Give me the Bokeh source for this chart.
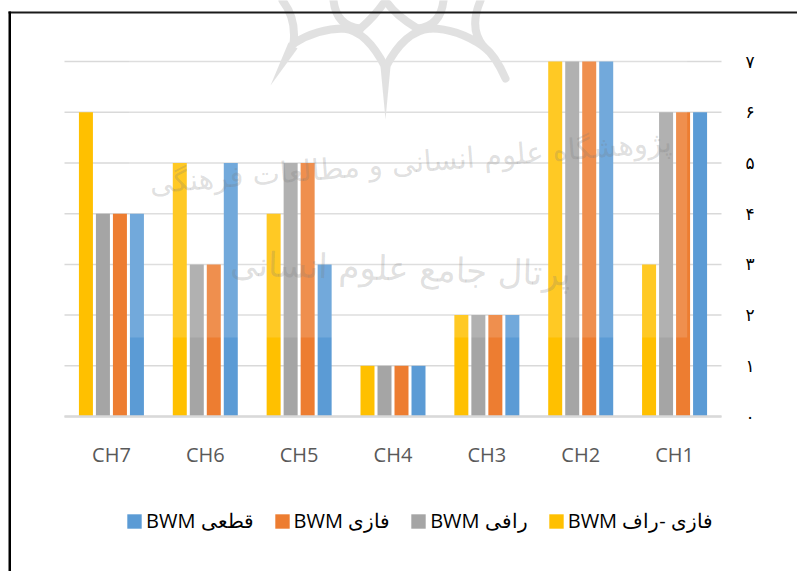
from bokeh.embed import file_html
from bokeh.resources import INLINE
from bokeh.plotting import figure
from bokeh.models import (ColumnDataSource, Range1d, FixedTicker, Legend, LegendItem)
from bokeh.transform import dodge
from bokeh.core.properties import value

categories = ["CH7", "CH6", "CH5", "CH4", "CH3", "CH2", "CH1"]
fuzzy_rough = [6, 5, 4, 1, 2, 7, 3]
rough = [4, 3, 5, 1, 2, 7, 6]
fuzzy = [4, 3, 5, 1, 2, 7, 6]
crisp = [4, 5, 3, 1, 2, 7, 6]
tick_values = [0, 1, 2, 3, 4, 5, 6, 7]
tick_labels = ["۰", "۱", "۲", "۳", "۴", "۵", "۶", "۷"]
series_names = ["BWM فازی -راف", "BWM رافی", "BWM فازی", "BWM قطعی"]
series_colors = ["#FFC000", "#A5A5A5", "#ED7D31", "#5B9BD5"]
watermark_1 = "پژوهشگاه علوم انسانی و مطالعات فرهنگی"
watermark_2 = "پرتال جامع علوم انسانی"

W, H = 797, 571
FL, FR = 64, 721             # plot area left / right in page px
Y0, UNIT = 416.0, 50.7       # y of value 0 and px per unit in page px
GROUP = (FR - FL) / len(categories)


def px(x):
    return (x - FL) / GROUP


def py(y):
    return (Y0 - y) / UNIT


centers = [i + 0.5 for i in range(len(categories))]
source = ColumnDataSource(dict(x=centers, s0=fuzzy_rough, s1=rough, s2=fuzzy, s3=crisp))

p = figure(width=W, height=H, output_backend="svg", toolbar_location=None,
           x_range=Range1d(px(0), px(W)), y_range=Range1d(py(H), py(0)),
           y_axis_location="right",
           min_border_left=0, min_border_right=0, min_border_top=0, min_border_bottom=0,
           background_fill_color="white", border_fill_color="white")
p.outline_line_color = None
p.xgrid.visible = False
p.ygrid.visible = False

# horizontal value lines, only across the plot area
p.segment(x0=[px(FL)] * len(tick_values), x1=[px(FR)] * len(tick_values),
          y0=tick_values, y1=tick_values, line_color="#d9d9d9", line_width=1.5, level="underlay")

ax = p.yaxis[0]
ax.fixed_location = px(FR)
ax.ticker = FixedTicker(ticks=tick_values)
ax.major_label_overrides = {v: t for v, t in zip(tick_values, tick_labels)}
ax.axis_line_color = None
ax.major_tick_line_color = None
ax.minor_tick_line_color = None
ax.major_label_text_color = "#000000"
ax.major_label_text_font = "DejaVu Sans"
ax.major_label_text_font_size = "17px"
ax.major_label_standoff = 18

xa = p.xaxis[0]
xa.fixed_location = 0
xa.bounds = (px(FL), px(FR))
xa.ticker = FixedTicker(ticks=centers)
xa.major_label_overrides = {c: n for c, n in zip(centers, categories)}
xa.axis_line_color = "#d9d9d9"
xa.axis_line_width = 2.5
xa.major_tick_line_color = None
xa.minor_tick_line_color = None
xa.major_label_text_color = "#595959"
xa.major_label_text_font = "Open Sans"
xa.major_label_text_font_size = "20px"
xa.major_label_standoff = 18

# watermark: logo strokes (x0, y0, cx, cy, x1, y1 in page px), under the bars
LOGO = "#dddddd"
strokes = [
    (385, 67, 366, 30, 343, 28),
    (343, 28, 317, 28, 293, 43),
    (385, 67, 404, 30, 430, 28),
    (430, 28, 457, 28, 483, 46),
    (483, 46, 495, 55, 505, 78),
    (282, 0, 296, 18, 293, 43),
    (333, 0, 336, 26, 360, 28),
    (360, 28, 375, 15, 385, 0),
    (385, 0, 395, 15, 417, 28),
    (417, 28, 440, 26, 443, 0),
    (480, 0, 468, 28, 483, 46),
]
p.quadratic(x0=[px(s[0]) for s in strokes], y0=[py(s[1]) for s in strokes],
            cx=[px(s[2]) for s in strokes], cy=[py(s[3]) for s in strokes],
            x1=[px(s[4]) for s in strokes], y1=[py(s[5]) for s in strokes],
            line_color=LOGO, line_width=8, line_cap="round", level="underlay")
tips = [
    [(380, 66), (390, 66), (385, 119)],
    [(288, 42), (297, 48), (270, 85)],
]
p.patches(xs=[[px(a[0]) for a in t] for t in tips], ys=[[py(a[1]) for a in t] for t in tips],
          fill_color=LOGO, line_color=None, level="underlay")

BAR = 14 / GROUP
STEP = 17 / GROUP
items = []
for i, (name, color) in enumerate(zip(series_names, series_colors)):
    r = p.vbar(x=dodge("x", (i - 1.5) * STEP), top=f"s{i}", width=BAR,
               bottom=0, source=source, fill_color=color, line_color=None)
    items.append((name, r))

# pale veil of the scanned watermark layer
p.quad(left=[px(128.5)], right=[px(686.7)], top=[py(0)], bottom=[py(337)],
       fill_color="#ffffff", fill_alpha=0.14, line_color=None)

# watermark: text
p.text(x=[px(410)], y=[py(162)], text=[watermark_1], angle=[0.08], text_align="center",
       text_baseline="middle", text_font=value("DejaVu Sans"), text_font_size="29px",
       text_color="#7a7a7a", text_alpha=0.24)
p.text(x=[px(400)], y=[py(268)], text=[watermark_2], angle=[-0.03], text_align="center",
       text_baseline="middle", text_font=value("DejaVu Sans"), text_font_size="34px",
       text_color="#7a7a7a", text_alpha=0.24)

# legend: reversed order, as in the reference
legend = Legend(items=[LegendItem(label=value(n), renderers=[r]) for n, r in reversed(items)],
                orientation="horizontal", location=(125, H - 534),
                background_fill_alpha=0, border_line_color=None, padding=0, margin=0,
                glyph_width=18, glyph_height=18, label_standoff=3, spacing=19,
                label_text_font="Open Sans", label_text_font_size="20px",
                label_text_color="#000000", label_height=18)
p.add_layout(legend, "center")

# page frame: top and left rules
p.quad(left=[px(8), px(8)], right=[px(W), px(10.5)], top=[py(11), py(11)], bottom=[py(13), py(H)],
       fill_color=["#1a1a1a", "#000000"], line_color=None)

open("out.html", "w").write(file_html(p, INLINE))
